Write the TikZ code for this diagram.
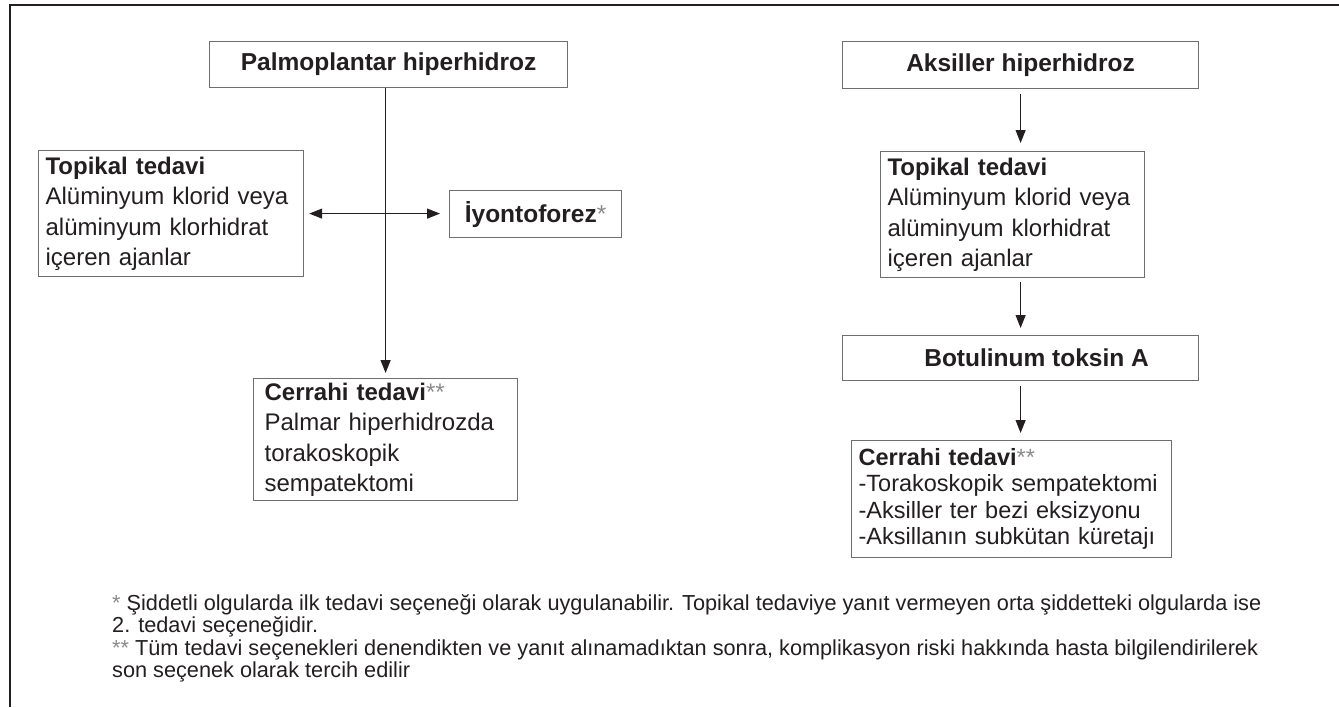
\documentclass[tikz,border=0pt]{standalone}
\usepackage{fontspec}
\setmainfont{Liberation Sans}
\usetikzlibrary{arrows.meta,calc}
\definecolor{ink}{HTML}{231F20}
\definecolor{boxline}{HTML}{6D6E70}
\definecolor{star}{HTML}{8A8A8A}
\newcommand{\gst}[1]{\textcolor{star}{\mdseries #1}}
\begin{document}
\begin{tikzpicture}[x=1pt,y=-1pt,
  box/.style={draw=boxline, line width=1.2pt, rectangle, inner ysep=0pt, anchor=north west, text=ink},
  body/.style={font=\fontsize{24}{30.5}\selectfont, align=left},
  head/.style={font=\bfseries\fontsize{24.5}{28}\selectfont, inner xsep=0pt},
  arr/.style={draw=ink, line width=1.1pt, -{Triangle[length=13pt,width=10pt]}},
  foot/.style={anchor=base west, inner sep=0pt, text=ink, font=\fontsize{21.7}{22}\selectfont}
]
\useasboundingbox (0,0) rectangle (1339,707);
\fill[white] (0,0) rectangle (1339,707);
\draw[ink, line width=1.2pt] (10,707) -- (10,5) -- (1339,5);

\node[box, head, minimum width=358, minimum height=46] (pal) at (209,41) {Palmoplantar hiperhidroz};
\node[box, head, minimum width=356, minimum height=47] (aks) at (842,41) {Aksiller hiperhidroz};

\node[box, body, text width=251, inner xsep=7, minimum height=126] (topL) at (38,150)
  {\textbf{Topikal tedavi}\\Alüminyum klorid veya\\alüminyum klorhidrat\\içeren ajanlar};
\node[box, head, minimum width=172, minimum height=47] (iyon) at (449,190) {İyontoforez\gst{*}};
\node[box, body, text width=242, inner xsep=11, minimum height=122] (cerL) at (253,378)
  {\textbf{Cerrahi tedavi}\gst{**}\\Palmar hiperhidrozda\\torakoskopik\\sempatektomi};

\node[box, body, text width=250, inner xsep=7, minimum height=126] (topR) at (880,151)
  {\textbf{Topikal tedavi}\\Alüminyum klorid veya\\alüminyum klorhidrat\\içeren ajanlar};
\node[box, head, minimum width=356, minimum height=45] (bot) at (842,335) {\hspace*{32pt}Botulinum toksin A};
\node[box, font=\fontsize{23.5}{26.5}\selectfont, align=left, text width=306, inner xsep=7, minimum height=117] (cerR) at (851,440)
  {\textbf{Cerrahi tedavi}\gst{**}\\-Torakoskopik sempatektomi\\-Aksiller ter bezi eksizyonu\\-Aksillanın subkütan küretajı};

\draw[arr, shorten >=5pt] (pal.south -| cerL.north) -- (cerL.north);
\draw[arr, {Triangle[length=13pt,width=10pt]}-{Triangle[length=13pt,width=10pt]}, shorten <=5pt, shorten >=9pt] (topL.east) -- (topL.east -| iyon.west);
\draw[arr, shorten <=5pt, shorten >=8pt] (aks.south) -- (aks.south |- topR.north);
\draw[arr, shorten <=4pt, shorten >=7pt] (topR.south -| aks.south) -- (aks.south |- bot.north);
\draw[arr, shorten <=5pt, shorten >=7pt] (bot.south) -- (bot.south |- cerR.north);

\node[foot] (f1) at (112,610) {\gst{*} Şiddetli olgularda ilk tedavi seçeneği olarak uygulanabilir. Topikal tedaviye yanıt vermeyen orta şiddetteki olgularda ise};
\node[foot] (f2) at (112,632) {2. tedavi seçeneğidir.};
\node[foot] (f3) at (112,655) {\gst{**} Tüm tedavi seçenekleri denendikten ve yanıt alınamadıktan sonra, komplikasyon riski hakkında hasta bilgilendirilerek};
\node[foot] (f4) at (112,677) {son seçenek olarak tercih edilir};
\end{tikzpicture}
\end{document}
